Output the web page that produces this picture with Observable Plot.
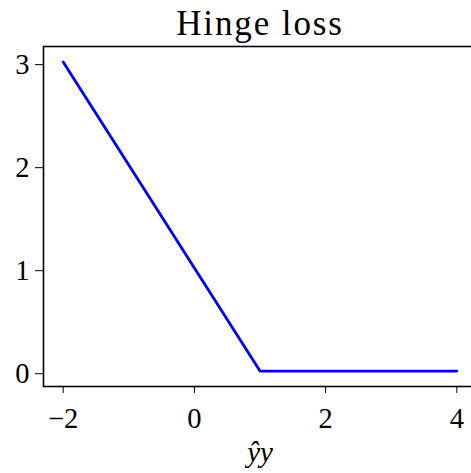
<!DOCTYPE html>
<html>
<head>
<meta charset="utf-8">
<script src="https://cdn.jsdelivr.net/npm/d3@7"></script>
<script src="https://cdn.jsdelivr.net/npm/@observablehq/plot@0.6"></script>
<style>
  html, body { margin: 0; padding: 0; background: #fff; overflow: hidden; }
  #chart { width: 471px; height: 473px; overflow: hidden; }
  #chart svg { display: block; max-width: none !important; width: 476px !important; height: 473px !important; }
  .hinge-title text { letter-spacing: 1.9px; }
</style>
</head>
<body>
<div id="chart"></div>
<script>
// Data
const margins = [-2, 1, 4];          // ŷy values at the line's vertices
const lossValues = [3.026, 0.026, 0.026]; // hinge loss at those vertices
const xTicks = [-2, 0, 2, 4];
const yTicks = [0, 1, 2, 3];
const titleText = "Hinge loss";
const xLabel = "ŷy";

const data = margins.map((m, i) => ({m, loss: lossValues[i]}));
const fmt = d => (d < 0 ? "\u2212" + (-d) : String(d));

const font = "'Liberation Serif', serif";

const chart = Plot.plot({
  width: 476,
  height: 473,
  marginLeft: 43,
  marginRight: 0,
  marginTop: 46,
  marginBottom: 87,
  style: {fontFamily: font, fontSize: "28px", color: "#000", background: "#fff", maxWidth: "none"},
  x: {domain: [-2.3, 4.3]},
  y: {domain: [-0.124, 3.176]},
  marks: [
    Plot.line(data, {x: "m", y: "loss", stroke: "#0000ff", strokeWidth: 2.8}),
    Plot.frame({stroke: "#000", strokeWidth: 1.6}),
    Plot.axisX({ticks: xTicks, tickFormat: fmt, tickSize: 7, tickPadding: 14, tickStrokeWidth: 1.4, label: null, fontSize: 28.5}),
    Plot.axisY({ticks: yTicks, tickFormat: fmt, tickSize: 8, tickPadding: 6, tickStrokeWidth: 1.4, label: null, fontSize: 28.5}),
    Plot.text([titleText], {frameAnchor: "top", lineAnchor: "bottom", dy: -12, fontSize: 35, fill: "#000", text: d => d, className: "hinge-title"}),
    Plot.text([xLabel], {frameAnchor: "bottom", lineAnchor: "bottom", dy: 75, fontSize: 29, fontStyle: "italic", fill: "#000", text: d => d})
  ]
});
document.getElementById("chart").appendChild(chart);
</script>
</body>
</html>
